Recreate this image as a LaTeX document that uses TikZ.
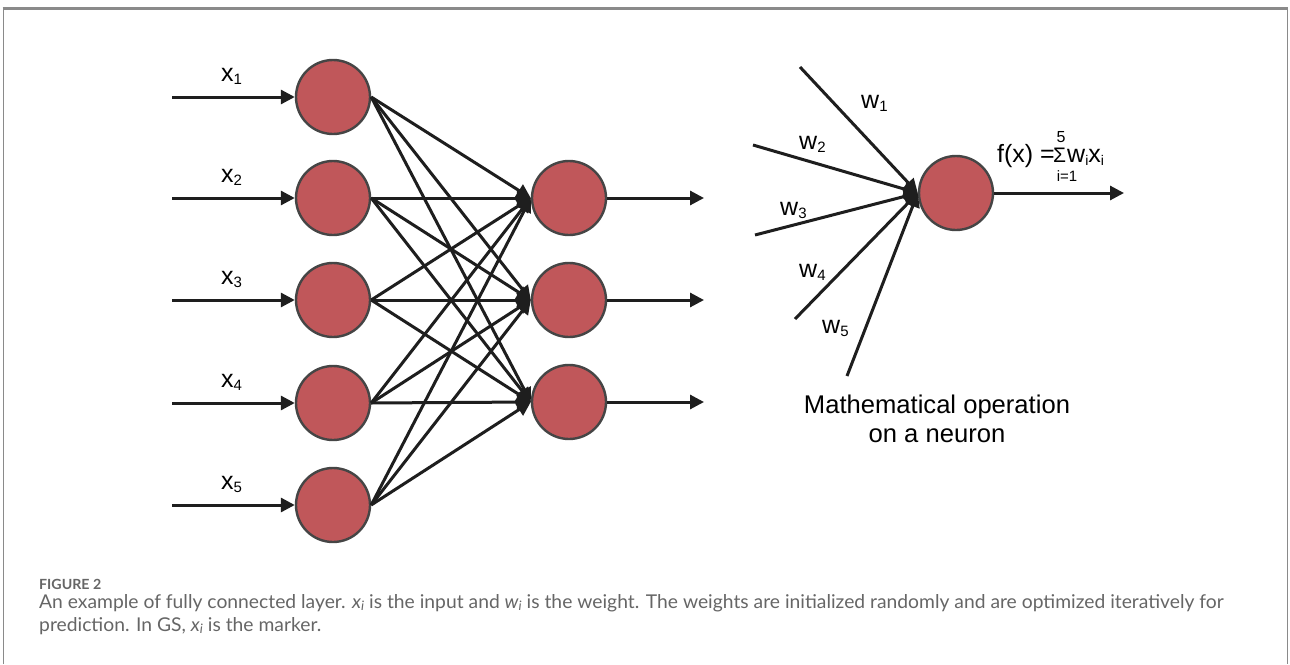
\documentclass[tikz,border=0pt]{standalone}
\usepackage{fontspec}
\setmainfont{Liberation Sans}
\newfontfamily\capfont[FakeStretch=1.015]{Lato}
\usetikzlibrary{arrows.meta}
\definecolor{nodefill}{HTML}{C0575A}
\definecolor{nodeline}{HTML}{454545}
\definecolor{ink}{HTML}{1E1E1E}
\definecolor{framegray}{HTML}{8A8A8A}
\definecolor{capgray}{HTML}{666666}
\newcommand\lab[2]{#1\raisebox{-3pt}{\fontsize{15}{15}\selectfont #2}}
\newcommand\capsub[2]{{\itshape #1\raisebox{-2.5pt}{\fontsize{13}{13}\selectfont\itshape #2}}}
\begin{document}
\begin{tikzpicture}[x=1pt,y=-1pt,
  neuron/.style={circle, draw=nodeline, line width=2.4pt, fill=nodefill, minimum size=74pt, inner sep=0pt},
  conn/.style={draw=ink, line width=3pt, -{Triangle[length=14pt,width=14pt]}},
  lbl/.style={font=\fontsize{25}{28}\selectfont, inner sep=0pt, anchor=base west},
  small/.style={font=\fontsize{16}{16}\selectfont, inner sep=0pt, anchor=base},
  title/.style={font=\fontsize{25.6}{28}\selectfont, inner sep=0pt, anchor=base},
  caphead/.style={font=\capfont\bfseries\fontsize{14}{14}\selectfont, text=capgray, inner sep=0pt, anchor=base west},
  captext/.style={font=\capfont\fontsize{19}{19}\selectfont, text=capgray, inner sep=0pt, anchor=base west},
  frame/.style={draw=framegray, line width=1pt},
]
\useasboundingbox (0,0) rectangle (1290,664);
\fill[white] (0,0) rectangle (1290,664);
% frame
\draw[frame] (3,664) -- (3,8.5) -- (1287,8.5) -- (1287,664);
\draw[framegray, line width=2.5pt] (2.5,8.5) -- (1287.5,8.5);

% input layer
\foreach \i/\y in {1/97,2/198,3/300,4/403,5/505}{
  \node[neuron] (in\i) at (333,\y) {};
  \coordinate (src\i) at (172,\y);
  \node[lbl] (xl\i) at (221,\y-16) {\lab{x}{\i}};
}
% hidden layer
\foreach \j/\y in {1/198,2/300,3/402}{
  \node[neuron] (h\j) at (569,\y) {};
  \coordinate (out\j) at (704,\y);
}
% connections
\foreach \i in {1,...,5}{
  \draw[conn] (src\i) -- (in\i.west);
  \foreach \j in {1,2,3}{
    \draw[conn] (in\i.east) -- (h\j.west);
  }
}
\foreach \j in {1,2,3}{
  \draw[conn] (h\j.east) -- (out\j);
}

% single neuron
\node[neuron] (r) at (956,193) {};
\coordinate (e1) at (800,67);
\coordinate (e2) at (753,145);
\coordinate (e3) at (755,235);
\coordinate (e4) at (795,319);
\coordinate (e5) at (847,376);
\foreach \k in {1,...,5}{
  \draw[conn] (e\k) -- (r.west);
}
\coordinate (rout) at (1124,193);
\draw[conn] (r.east) -- (rout);

\node[lbl] (w1) at (861,108) {\lab{w}{1}};
\node[lbl] (w2) at (799,149) {\lab{w}{2}};
\node[lbl] (w3) at (780,215) {\lab{w}{3}};
\node[lbl] (w4) at (799,277) {\lab{w}{4}};
\node[lbl] (w5) at (822,333) {\lab{w}{5}};

% formula
\node[lbl, font=\fontsize{25}{28}\selectfont] (fx) at (997,162) {f(x) =};
\node[lbl, font=\fontsize{21}{21}\selectfont] (sig) at (1053,162) {Σ};
\node[small] (top5) at (1061,142) {5};
\node[small, font=\fontsize{15}{15}\selectfont] (bot) at (1067,181) {i=1};
\node[lbl, font=\fontsize{25}{28}\selectfont] (wx) at (1067,162) {w\raisebox{-3pt}{\fontsize{14}{14}\selectfont i}x\raisebox{-3pt}{\fontsize{14}{14}\selectfont i}};

\node[title] (t1) at (937,413) {Mathematical operation};
\node[title] (t2) at (937,442) {on a neuron};

% caption
\node[caphead] (fig) at (39,589) {FIGURE 2};
\node[captext] (c1) at (39,608) {An example of fully connected layer. \capsub{x}{i} is the input and \capsub{w}{i} is the weight. The weights are initialized randomly and are optimized iteratively for};
\node[captext] (c2) at (39,631) {prediction. In GS, \capsub{x}{i} is the marker.};
\end{tikzpicture}
\end{document}
